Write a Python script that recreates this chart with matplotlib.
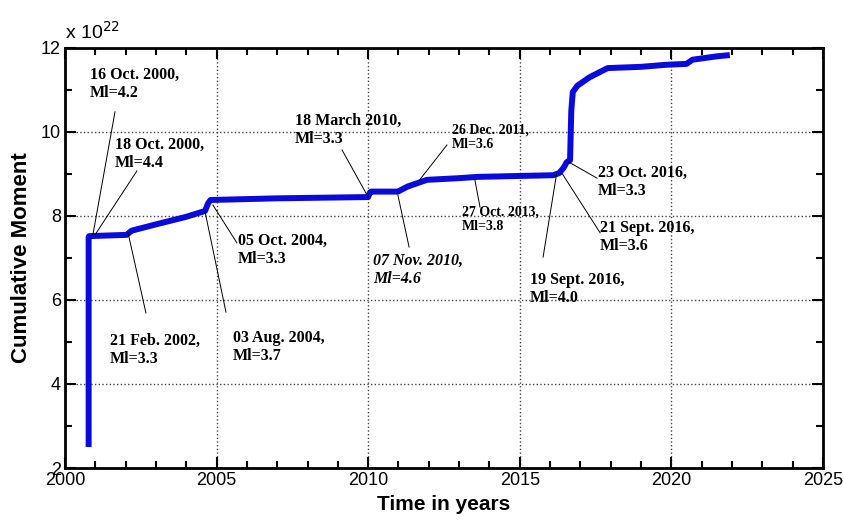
import matplotlib.pyplot as plt
from matplotlib.ticker import MultipleLocator

plt.rcParams["font.family"] = ["Liberation Sans", "DejaVu Sans"]

# cumulative seismic moment curve (x 1e22)
years = [2000.78, 2000.78, 2000.80, 2002.03, 2002.2, 2003.0, 2004.0, 2004.62, 2004.72,
         2004.80, 2007.0, 2010.0, 2010.06, 2010.1, 2010.98, 2011.3, 2011.94, 2013.0,
         2013.6, 2016.1, 2016.3, 2016.45, 2016.55, 2016.66, 2016.7, 2016.75, 2016.9,
         2017.3, 2017.9, 2019.0, 2019.85, 2020.5, 2020.7, 2021.0, 2021.5, 2021.93]
moment = [2.5, 7.5, 7.52, 7.55, 7.65, 7.8, 7.98, 8.12, 8.3,
          8.38, 8.42, 8.45, 8.56, 8.58, 8.58, 8.7, 8.86, 8.9,
          8.93, 8.97, 9.02, 9.15, 9.28, 9.33, 10.5, 10.95, 11.1,
          11.3, 11.52, 11.55, 11.6, 11.62, 11.72, 11.75, 11.8, 11.83]

# event labels: text, text anchor (top-left), leader line start, leader line end
labels = ["16 Oct. 2000,\nMl=4.2", "18 Oct. 2000,\nMl=4.4", "05 Oct. 2004,\nMl=3.3",
          "21 Feb. 2002,\nMl=3.3", "03 Aug. 2004,\nMl=3.7", "18 March 2010,\nMl=3.3",
          "07 Nov. 2010,\nMl=4.6", "26 Dec. 2011,\nMl=3.6", "27 Oct. 2013,\nMl=3.8",
          "19 Sept. 2016,\nMl=4.0", "21 Sept. 2016,\nMl=3.6", "23 Oct. 2016,\nMl=3.3"]
label_xy = [(2000.82, 11.55), (2001.65, 9.88), (2005.71, 7.6), (2001.48, 5.21),
            (2005.54, 5.29), (2007.59, 10.45), (2010.16, 7.12), (2012.76, 10.21),
            (2013.09, 8.26), (2015.34, 6.67), (2017.65, 7.9), (2017.58, 9.21)]
line_from = [(2001.65, 10.48), (2002.37, 9.07), (2005.67, 7.36), (2002.67, 5.69),
             (2005.31, 5.71), (2009.14, 9.57), (2011.35, 7.26), (2012.6, 9.69),
             (2013.69, 8.21), (2015.77, 7.02), (2017.65, 7.6), (2017.55, 8.9)]
line_to = [(2000.92, 7.55), (2000.99, 7.55), (2004.88, 8.26), (2002.08, 7.6),
           (2004.62, 8.1), (2010.0, 8.45), (2010.98, 8.5), (2011.7, 8.86),
           (2013.52, 8.86), (2016.22, 9.02), (2016.39, 9.02), (2016.6, 9.29)]
label_size = [11.5, 11.5, 11.5, 11.5, 11.5, 11.5, 11.5, 10, 10, 11.5, 11.5, 11.5]
label_style = ["normal"] * 6 + ["italic"] + ["normal"] * 5

fig = plt.figure(figsize=(8.44, 5.21), dpi=100)
ax = fig.add_axes([0.077, 0.1017, 0.898, 0.8063])

ax.plot(years, moment, color="#0a0adc", lw=4.3, solid_capstyle="butt")

for txt, (tx, ty), (x0, y0), (x1, y1), fs, st in zip(labels, label_xy, line_from, line_to,
                                                     label_size, label_style):
    ax.plot([x0, x1], [y0, y1], color="black", lw=0.7)
    ax.text(tx, ty, txt, family="Liberation Serif", weight="bold", style=st,
            fontsize=fs, ha="left", va="top", linespacing=1.15)

ax.set_xlim(2000, 2025)
ax.set_ylim(2, 12)
ax.xaxis.set_major_locator(MultipleLocator(5))
ax.xaxis.set_minor_locator(MultipleLocator(1))
ax.yaxis.set_major_locator(MultipleLocator(2))
ax.yaxis.set_minor_locator(MultipleLocator(1))
ax.tick_params(which="both", direction="in", top=True, right=True, width=1.5)
ax.tick_params(which="major", length=8, labelsize=13, pad=3)
ax.tick_params(which="minor", length=5)
for s in ax.spines.values():
    s.set_linewidth(2)
ax.grid(True, which="major", linestyle=":", color="#444444", lw=1)

ax.set_xlabel("Time in years", fontsize=15, weight="bold", labelpad=4)
ax.set_ylabel("Cumulative Moment", fontsize=16, weight="bold", labelpad=6)
fig.text(0.077, 0.925, r"x 10$^{22}$", fontsize=14)

fig.savefig("out.png", dpi=100)
